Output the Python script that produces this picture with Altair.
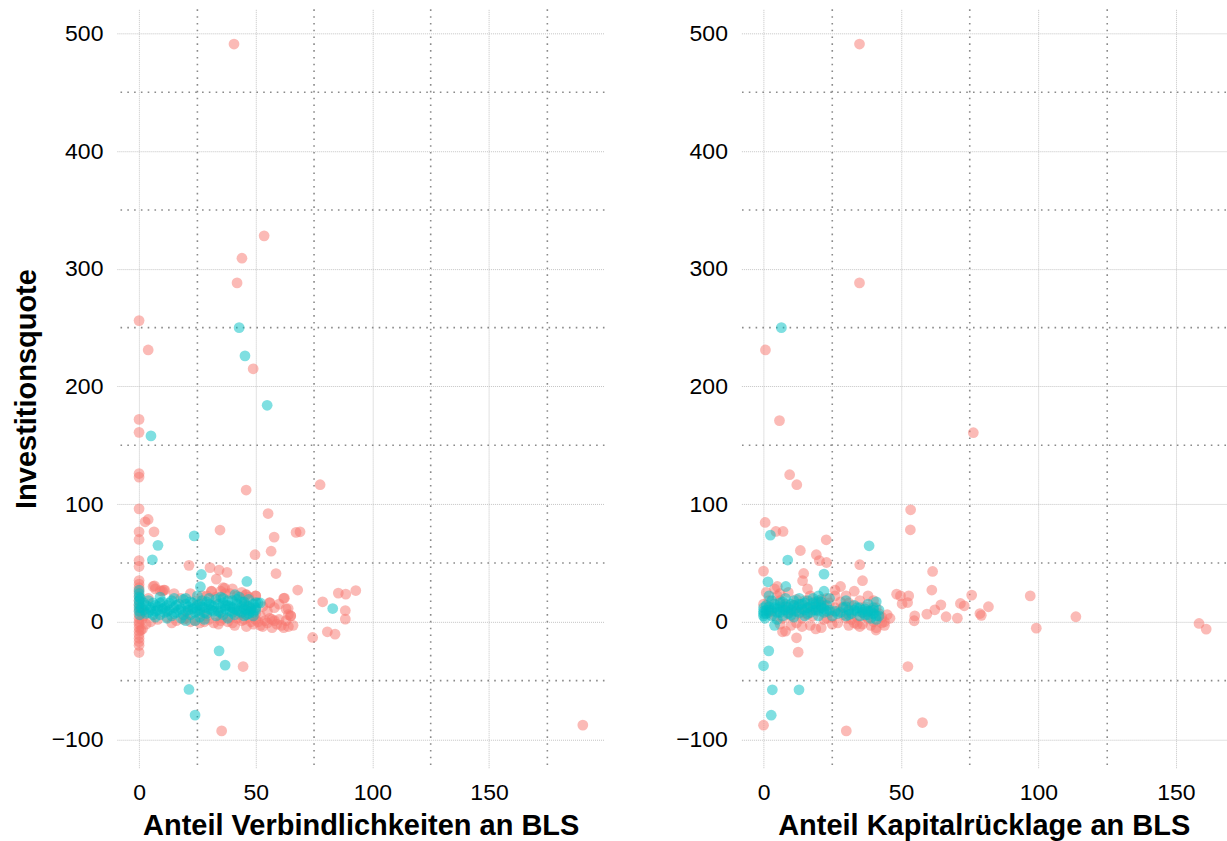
import altair as alt
import pandas as pd

# ---------------- data ----------------
groups = ["Gruppe A", "Gruppe B"]
colors = ["#F8766D", "#00BFC4"]

# Left panel: Anteil Verbindlichkeiten an BLS
verb_red_x = [40.7, 53.6, 44.1, 42, 0, 3.9, 48.9, 0, 0, 0, 0, 77.6, 45.9, 0, 55.3, 2.6, 3.9, 0, 0, 6.4,
              34.7, 67.3, 69, 57.9, 56.6, 49.7, 0, 0, 21.4, 30.4, 34.3, 37.7, 58.7, 33.1, 6.6, 10.6, 68, 85.4, 88.6, 92.9,
              78.7, 88.4, 88.4, 80.7, 84, 74.4, 190.2, 35.4, 44.6, 36.7, 31.1, 62.3, 63.9, 65, 56, 50, 45.7, 9.1,
              0, 0, 0, 0, 0, 0, 0, 0, 0, 0, 0, 0, 0, 0, 0, 0, 0, 0, 0, 0.8, 1.2, 0.6,
              20, 24, 28, 30, 32, 35, 38, 40, 42, 44, 46, 48, 50, 52, 53, 54, 56, 57, 58, 59,
              60, 62, 63, 64, 65, 66, 62, 56, 50, 46, 44, 42, 40, 36, 31, 33, 37, 27, 22, 15,
              10, 7, 12, 16, 8, 5, 3, 2, 1, 1.5, 4, 6, 11, 18, 25, 45, 48, 55, 58, 60,
              53, 50, 47, 43, 39, 34, 29, 26, 21,
              22, 26, 34, 36, 41, 45, 49, 51, 55, 57, 61, 63, 64, 52, 47, 39, 35, 29, 19, 14]
verb_red_y = [491, 328, 309, 288, 256, 231, 215, 172, 161, 126, 123, 116.5, 112, 96, 92, 85, 87, 76.5, 70, 76.5,
              78, 76, 76.5, 72, 60, 57, 52, 47, 48, 46, 44, 42, 41, 36.3, 30.6, 27, 27, 24.4, 23.5, 26.6,
              17, 9.6, 2.3, -8.5, -10.5, -13.3, -87.8, -92.7, -38, 28.6, 25.8, 20.1, 11.3, 5.1, 16.4, 22.1, 23, 26.4,
              35, 32, 29, 26, 22, 18, 14, 10, 6, 3, 0, -2, -5, -8, -11, -14, -17, -20, -26, -7, 2, 12,
              3, 1, 0, 2, -1, 1, 0, -1, 3, 1, -4, 0, 2, -3, -4, 1, 3, -5, 1, -2,
              2, -5, 11, 6, 5, -3, 20, 16, 22, 23, 25, 22, 28, 29, 26, 21, 24, 22, 24, 24,
              26, 28, 4, 1, 2, 0, -2, 5, 8, -6, 20, 30, 27, 20, 18, 15, 12, 9, 12, 15,
              13, 7, 4, 6, 4, 6, 5, 7, 8,
              0, -1, -2, 3, -3, 2, -2, 0, -1, 2, -3, 1, -4, 5, 21, 24, 26, 22, 2, -1]

verb_cyan_x = [42.9, 45.4, 54.9, 5.1, 23.6, 8.1, 5.7, 26.7, 26.3, 46.2, 34.3, 36.9, 21.4, 24, 83, 50, 51, 41.1,
               0, 0, 0, 0, 0, 0, 0, 0.5, 0.3,
               2, 3, 4, 5, 6, 7, 8, 9, 10, 10, 11, 12, 13, 14, 14, 15, 16, 17, 18, 18,
               19, 20, 21, 22, 22, 23, 24, 25, 26, 26, 27, 28, 29, 30, 31, 32, 33, 33, 34, 35,
               36, 36, 37, 38, 38, 39, 40, 40, 41, 42, 42, 43, 44, 44, 45, 45, 46, 46, 47, 47,
               48, 49, 49, 50, 52, 35, 30, 25, 20, 15, 12, 9, 7, 28, 24, 20,
               1, 2, 3, 4, 5, 6, 7, 8, 9, 11, 12, 13, 15, 16, 17, 19, 20, 21, 23, 24,
               25, 27, 28, 29, 31, 32, 34, 35, 37, 39, 40, 41, 43, 44, 45, 46, 47, 48, 49, 50,
               38, 42, 36, 30, 26]
verb_cyan_y = [250, 226, 184, 158, 73, 65, 52.7, 40.2, 29.8, 34.3, -24.7, -36.8, -57.5, -79.3, 11.3, 16.4, 16, 23,
               27, 24, 21, 18, 15, 12, 9, 20, 6,
               10, 14, 8, 12, 16, 9, 13, 6, 11, 17, 8, 14, 10, 5, 18, 12, 8, 15, 11, 3,
               19, 9, 13, 6, 17, 11, 8, 14, 4, 10, 18, 12, 7, 15, 10, 13, 5, 19, 9, 12,
               16, 6, 11, 14, 3, 9, 18, 12, 6, 15, 10, 21, 8, 13, 5, 17, 10, 14, 7, 19,
               11, 8, 15, 12, 16, 21, 20, 22, 20, 20, 3, 21, 4, 2, 1, 1,
               12, 16, 7, 18, 10, 6, 14, 10, 16, 12, 9, 16, 7, 14, 10, 6, 15, 10, 16, 12,
               9, 13, 8, 17, 14, 9, 15, 8, 14, 13, 8, 11, 9, 17, 11, 6, 13, 9, 5, 10,
               18, 19, 20, 11, 15]

# Right panel: Anteil Kapitalrücklage an BLS
kap_red_x = [34.9, 34.9, 0.7, 5.8, 76.3, 9.5, 12.1, 53.5, 53.4, 0.6, 4.5, 7.1, 22.8, 13.4, 19.2, 22.9, 20.3, 0, 35, 14.6,
             14.2, 36, 61.5, 61.2, 48.4, 52.8, 49.8, 50.4, 52.4, 55, 54.8, 59.4, 62.3, 64.5, 66.4, 70.5, 71.6, 73, 75.7, 78.7,
             79.2, 81.8, 97, 99.2, 113.6, 158.4, 161, 52.5, 57.8, 30.1, 0, 12, 12.6, 6.9, 40.9,
             0, 1, 2, 3, 4, 5, 5, 6, 7, 7, 8, 9, 10, 11, 12, 13, 14, 15, 16, 17,
             18, 19, 20, 21, 22, 22, 23, 24, 25, 26, 27, 28, 29, 30, 31, 31, 32, 33, 33, 34,
             35, 36, 36, 37, 38, 38, 39, 40, 40, 41, 42, 43, 43, 44, 45, 28, 26, 30, 34, 24,
             21, 19, 17, 12, 9, 6,
             2, 4, 6, 8, 10, 11, 13, 14, 16, 18, 20, 23, 25, 27, 29, 32, 35, 37, 39, 41,
             44, 46, 26, 31, 16]
kap_red_y = [491, 288, 231, 171, 160.7, 125, 116.5, 95.2, 78.2, 84.4, 76.8, 76.8, 69.7, 60.6, 57, 50.4, 52, 43.1, 48.5, 41.1,
             34.9, 34.9, 42.8, 27, 23.5, 22, 22, 15.3, 16.4, 5, 0.9, 6.5, 10.2, 14.4, 4.3, 3.1, 15.6, 13.6, 22.7, 7,
             5.5, 12.8, 22, -5.4, 4.3, -1.4, -6.2, -38, -85.6, -92.7, -87.9, -13.6, -25.8, -8.5, -7,
             15, 25, 18, 10, 28, 22, 30, -2, 3, 12, -8, 8, 5, 14, -1, 7, 3, 18, 12, -3,
             5, -6, 10, -5, 2, 14, 20, 8, 4, 12, -1, 17, 6, 22, 9, -3, 14, -1, 26, 4,
             18, 8, -2, 13, 22, 3, 10, 18, 0, -5, 7, -1, 4, 0, 6, 30, 27, 3, -2, 16,
             19, 17, 22, 19, 25, 24,
             8, 5, 18, 15, -3, 9, 12, -4, 6, 12, 16, 3, -2, 9, 13, 2, -4, 5, -3, 12,
             -3, 3, 22, 16, 28]

kap_cyan_x = [6.5, 2.5, 38.4, 8.8, 22, 1.6, 8.1, 1.9, 0, 3.2, 12.9, 2.8,
              0, 0, 0, 0.5, 1, 1, 2, 3, 3, 4, 5, 5, 6, 7, 7, 8, 8, 9, 10, 10,
              11, 11, 12, 13, 13, 14, 15, 15, 16, 17, 17, 18, 19, 19, 20, 20, 21, 21, 22, 22,
              23, 24, 24, 25, 28, 29, 30, 30, 31, 32, 33, 34, 35, 35, 36, 37, 38, 38, 39, 39,
              40, 40, 41, 41, 42, 42, 2, 4,
              0, 1, 2, 3, 4, 5, 6, 6, 7, 8, 9, 10, 11, 12, 13, 14, 16, 16, 18, 19,
              20, 21, 22, 23, 26, 27, 30, 31, 33, 34, 36, 37, 38, 40, 41, 20, 18, 15]
kap_cyan_y = [250, 73.7, 64.6, 52.5, 40.5, 34, 30, -24.7, -37.4, -57.8, -57.8, -79.4,
              5, 9, 12, 3, 7, 14, 10, 5, 18, 12, 8, 2, 16, 10, 5, 13, 20, 7, 15, 10,
              4, 18, 12, 8, 20, 15, 10, 5, 18, 13, 8, 20, 15, 10, 5, 22, 12, 17, 8, 26,
              14, 20, 10, 5, 8, 12, 18, 5, 10, 7, 14, 9, 5, 12, 8, 11, 6, 15, 9, 3,
              12, 7, 17, 2, 10, 5, 22, -3,
              7, 10, 13, 9, 15, 11, 8, 13, 17, 10, 12, 6, 14, 9, 15, 11, 12, 7, 10, 13,
              9, 14, 11, 9, 9, 7, 13, 6, 10, 12, 10, 6, 9, 10, 5, 18, 16, 16]

# axis tick / grid positions
x_major = [0, 50, 100, 150]
y_major = [-100, 0, 100, 200, 300, 400, 500]
x_minor_left = [25, 75, 125, 175]
x_minor_right = [25, 75, 125]
y_minor = [-50, 50, 150, 250, 350, 450]

FONT = "Liberation Sans"
MINOR_COLOR = "#8a8a8a"
MAJOR_COLOR = "#c4c4c4"
Y_TITLE = "Investitionsquote"


def make_df(rx, ry, cx, cy):
    return pd.DataFrame({
        "x": rx + cx,
        "y": ry + cy,
        "g": [groups[0]] * len(rx) + [groups[1]] * len(cx),
        "o": list(range(len(rx) + len(cx))),
    })


def panel(df, xtitle, xdomain, xminor, width, show_ytitle):
    xs = alt.Scale(domain=xdomain, nice=False, zero=False)
    ys = alt.Scale(domain=[-124, 520.5], nice=False, zero=False)
    if show_ytitle:
        yaxis = alt.Axis(title=Y_TITLE, values=y_major)
    else:
        yaxis = alt.Axis(title=None, values=y_major)
    xaxis = alt.Axis(title=xtitle, values=x_major)
    vminor = alt.Chart(pd.DataFrame({"x": xminor})).mark_rule(
        color=MINOR_COLOR, strokeWidth=1.6, strokeDash=[1.6, 5.2]
    ).encode(x=alt.X("x:Q", scale=xs, axis=xaxis))
    hminor = alt.Chart(pd.DataFrame({"y": y_minor})).mark_rule(
        color=MINOR_COLOR, strokeWidth=1.6, strokeDash=[1.6, 5.2]
    ).encode(y=alt.Y("y:Q", scale=ys, axis=yaxis))
    pts = alt.Chart(df).mark_circle(size=116, opacity=0.5).encode(
        x=alt.X("x:Q", scale=xs, axis=xaxis),
        y=alt.Y("y:Q", scale=ys, axis=yaxis),
        color=alt.Color("g:N", scale=alt.Scale(domain=groups, range=colors), legend=None),
        order=alt.Order("o:Q"),
    )
    return alt.layer(vminor, hminor, pts).properties(width=width, height=759)


left = panel(make_df(verb_red_x, verb_red_y, verb_cyan_x, verb_cyan_y),
             "Anteil Verbindlichkeiten an BLS", [-9.5, 199.5], x_minor_left, 488, True)
right = panel(make_df(kap_red_x, kap_red_y, kap_cyan_x, kap_cyan_y),
              "Anteil Kapitalrücklage an BLS", [-8.05, 168.2], x_minor_right, 485, False)

chart = alt.hconcat(left, right, spacing=70).properties(
    padding={"left": 12, "top": 8, "right": 0, "bottom": 0},
    background="white",
).configure_view(strokeWidth=0).configure_axis(
    domain=False, ticks=False, tickSize=0,
    labelFont=FONT, labelFontSize=23, labelColor="#000000", labelPadding=14, labelFlush=False,
    titleFont=FONT, titleFontSize=29, titleFontWeight="bold", titleColor="#000000",
    grid=True, gridColor=MAJOR_COLOR, gridDash=[1, 1], gridWidth=1,
).configure_axisX(titlePadding=7).configure_axisY(titlePadding=10)

chart.save("out.html", embed_options={"renderer": "svg", "actions": False})
